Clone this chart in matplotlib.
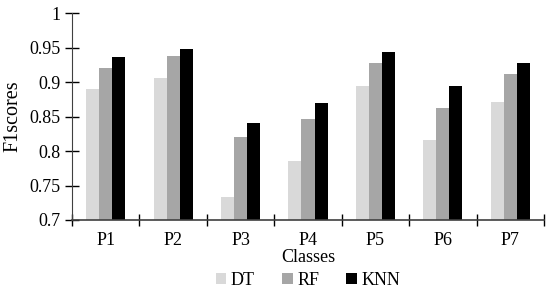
import numpy as np
import matplotlib.pyplot as plt

classes = ["P1", "P2", "P3", "P4", "P5", "P6", "P7"]
dt = [0.890, 0.906, 0.733, 0.785, 0.895, 0.816, 0.871]
rf = [0.921, 0.938, 0.821, 0.847, 0.928, 0.862, 0.911]
knn = [0.937, 0.948, 0.841, 0.869, 0.944, 0.895, 0.927]
yticks = [0.7, 0.75, 0.8, 0.85, 0.9, 0.95, 1]
ytick_labels = ["0.7", "0.75", "0.8", "0.85", "0.9", "0.95", "1"]

plt.rcParams["font.family"] = ["Liberation Serif", "DejaVu Serif"]
plt.rcParams["font.size"] = 13

fig = plt.figure(figsize=(5.5, 2.91), dpi=100)
ax = fig.add_axes([0.131, 0.244, 0.858, 0.711])

x = np.arange(len(classes))
w = 0.194
ax.bar(x - w, dt, w, color="#d9d9d9", label="DT")
ax.bar(x, rf, w, color="#a6a6a6", label="RF")
ax.bar(x + w, knn, w, color="#000000", label="KNN")

ax.set_ylim(0.7, 1.0)
ax.set_xlim(-0.5, len(classes) - 0.5)
ax.set_yticks(yticks)
ax.set_yticklabels(ytick_labels)
ax.set_xticks(x)
ax.set_xticklabels(classes)
ax.tick_params(axis="x", length=0, pad=9)
ax.set_xticks(np.arange(len(classes) + 1) - 0.5, minor=True)
ax.tick_params(axis="x", which="minor", direction="inout", length=8, width=1)
ax.tick_params(axis="y", direction="inout", length=10, width=1, pad=3)

for s in ["top", "right"]:
    ax.spines[s].set_visible(False)
ax.spines["left"].set_color("#404040")
ax.spines["bottom"].set_color("#404040")
ax.spines["bottom"].set_linewidth(1.2)

ax.set_xlabel("Classes", labelpad=0)
ax.set_ylabel("F1scores", labelpad=5, fontsize=14.5)

fig.legend(loc="center", bbox_to_anchor=(0.56, 0.037), ncol=3, frameon=False,
           handlelength=0.6, handleheight=0.6, handletextpad=0.25,
           columnspacing=1.5, borderaxespad=0)

plt.savefig("out.png", dpi=100)
